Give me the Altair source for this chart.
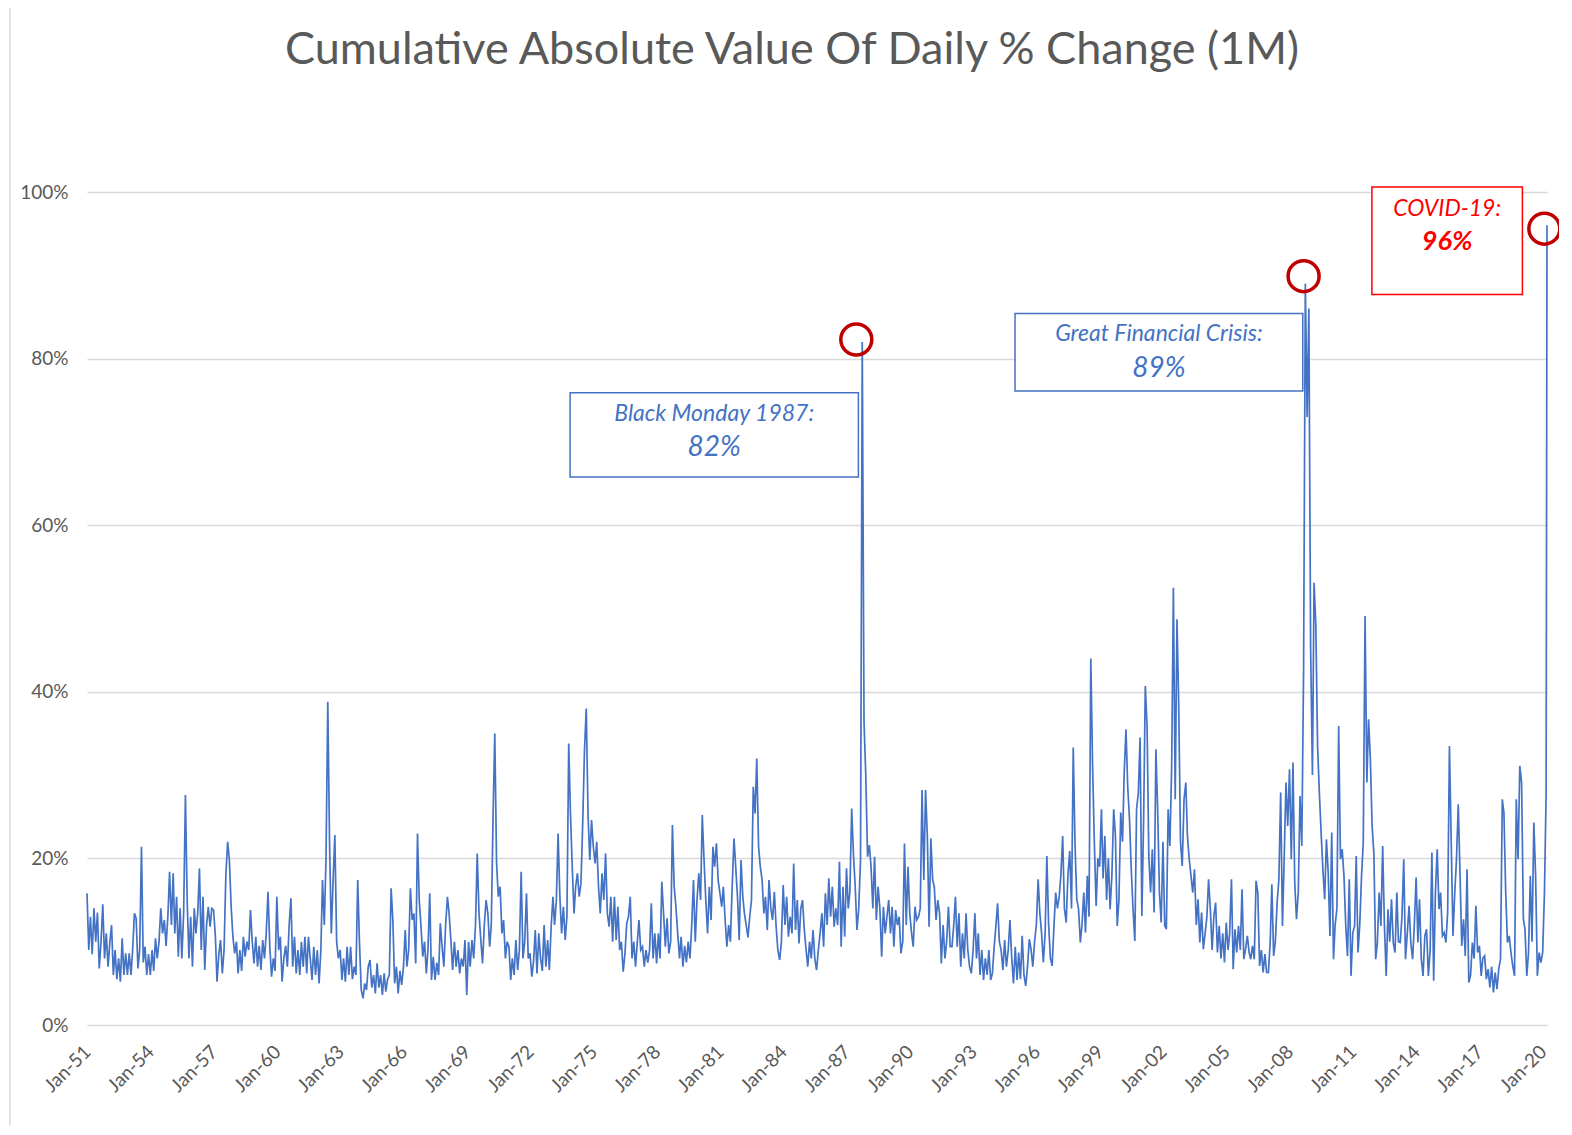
import altair as alt
import pandas as pd

# Monthly readings (in %), Jan..Dec of each year
v_1951_1960 = [
    15.8, 9, 13, 8.5, 14, 10, 13.5, 6.8, 10, 14.5, 8, 11,          # 1951
    7, 10, 12, 6, 9, 5.5, 8, 5.2, 10.4, 6, 8.6, 6,                 # 1952
    8.6, 6, 9, 13.4, 12.8, 6.8, 9, 21.4, 7.5, 9.4, 6, 8.5,         # 1953
    6, 9, 6.5, 10.4, 8, 10, 14, 11, 12.6, 9.5, 13, 18.4,           # 1954
    12, 18.2, 11, 15.4, 8.2, 14, 8, 13.4, 27.6, 15, 8, 13,         # 1955
    7, 14, 11, 13.5, 18.8, 9, 15.4, 6.6, 12, 14.2, 11.8, 14,       # 1956
    13.8, 10.6, 5.2, 8.5, 10.2, 6.2, 9, 18, 22, 19.8, 14.2, 10.6,  # 1957
    8.6, 10, 6.2, 9, 6.5, 10.6, 8.2, 10, 9, 13.8, 10, 7.4,         # 1958
    10.6, 7, 9.5, 6.6, 10.2, 8, 11, 16, 9.4, 5.8, 8, 6.5,          # 1959
    15.4, 9, 10.6, 5.2, 8, 9.5, 7, 12, 15.2, 7, 10.6, 6.2,         # 1960
]
v_1961_1970 = [
    9, 6, 10, 7, 10.6, 6.2, 10.6, 8, 5.4, 9.4, 6, 9,               # 1961
    5, 9, 17.4, 12, 20, 38.8, 22, 11, 17.4, 22.8, 10, 8,           # 1962
    9, 5.4, 8, 5.2, 9.4, 6, 9.4, 5.5, 7, 6, 17.4, 10,              # 1963
    4.2, 3.2, 5, 4.2, 7, 7.8, 4.5, 6, 3.8, 7.4, 4.5, 6,            # 1964
    3.6, 6.2, 4, 5.5, 6, 16.4, 12.6, 5, 7, 3.8, 6.5, 4.8,          # 1965
    7, 11.4, 7, 9, 16.4, 12.6, 13.4, 7.4, 23, 15, 11.8, 8.2,       # 1966
    10, 6.2, 9, 15.8, 5.4, 8.2, 5.4, 7.5, 6, 12.2, 9.4, 7,         # 1967
    12, 15.4, 13.4, 10.2, 6.6, 10, 7, 9, 6.2, 8, 7, 10.2,          # 1968
    3.6, 10, 7, 10.2, 8, 12, 20.6, 13.4, 10.2, 7.4, 12, 15,        # 1969
    13.4, 9.4, 12, 25, 35, 19.4, 15.4, 16.6, 11, 12.6, 8, 10,      # 1970
]
v_1971_1980 = [
    9.4, 5.4, 8, 6, 10.2, 6.6, 9, 18.4, 8, 10, 15.8, 8,            # 1971
    8.6, 5.8, 7.5, 11.4, 6.2, 11, 8, 6.5, 12, 7, 10.2, 6.6,        # 1972
    11.8, 15.4, 12, 15, 23, 15.4, 11, 14.2, 10.2, 13, 33.8, 25.4,  # 1973
    19, 13.4, 16.6, 18.2, 15.4, 17, 24.2, 33, 38, 25.4, 19.8, 24.6,  # 1974
    21.4, 19.4, 22, 16.6, 13.4, 18.2, 15, 20.6, 13.4, 11.8, 15.4, 10,  # 1975
    15.4, 10.2, 14.2, 9, 10, 6.4, 8.5, 12.2, 13, 15.4, 8, 10,      # 1976
    7, 10, 12.6, 9, 9.4, 7, 9, 7.5, 9, 14.6, 8, 11,                # 1977
    7.4, 11, 8, 17.2, 13.4, 9.4, 12.8, 8.6, 10, 24, 16.6, 14.2,    # 1978
    11, 8, 10.6, 7, 9.5, 7.5, 10, 8, 12, 17.4, 10, 15,             # 1979
    18.2, 15, 25.2, 19.8, 15, 11, 16.6, 12.6, 21.4, 19, 21.8, 17.4,  # 1980
]
v_1981_1990 = [
    15.8, 14.2, 16.6, 12.6, 9.4, 12, 10, 16.6, 22.4, 19, 15.4, 10.2,  # 1981
    19.8, 15.4, 13.4, 12, 10.5, 13, 15, 28.6, 25.4, 32, 21.4, 19,  # 1982
    17.4, 13.4, 15.4, 11.4, 17.4, 14, 12.6, 16, 11.8, 9, 7.8, 10,  # 1983
    16.8, 12, 15.4, 10.6, 13, 11, 19.4, 11.4, 15, 9.8, 14, 15,     # 1984
    11.4, 9, 7, 10, 8, 11.4, 8, 6.6, 9, 11, 13.4, 9.4,             # 1985
    15.8, 12, 17.6, 13, 16.6, 11.8, 14, 12, 19.6, 9.4, 16.6, 10.6,  # 1986
    18.8, 14, 16, 26, 20.6, 16.6, 11.4, 14, 19.8, 82, 36.2, 30,    # 1987
    20.2, 21.6, 19, 14, 20.2, 12.6, 16.6, 14, 8.2, 14.2, 11, 13,   # 1988
    15, 11, 14.2, 9.4, 13.8, 12, 13, 8.6, 10, 21.8, 12, 19,        # 1989
    13.4, 11, 9.4, 14.2, 12.6, 13, 14, 28.2, 17.4, 28.2, 22.6, 11.8,  # 1990
]
v_1991_2000 = [
    22.4, 17.4, 16.6, 12.6, 15, 13.4, 7.4, 12, 8, 10, 14.2, 9.4,   # 1991
    9.4, 12, 15.4, 9.4, 13.4, 7, 11, 8, 13.4, 9, 7, 6.2,           # 1992
    9, 13.4, 8, 11, 6, 9, 5.4, 8, 6, 9, 5.4, 6.2,                  # 1993
    9.4, 12, 14.6, 10, 9, 6.6, 10.2, 7, 9, 12.6, 8, 5,             # 1994
    9.4, 5.4, 8.7, 5.5, 10.7, 6, 4.7, 7, 10.3, 9.1, 7, 10,         # 1995
    12, 17.5, 13.5, 11, 7.5, 11, 20.3, 12, 8, 7.1, 11.9, 15.9,     # 1996
    14, 15.5, 18, 22.7, 14, 12.3, 18, 20.9, 14, 33.3, 21.5, 15.1,  # 1997
    13.9, 9.9, 12, 15.9, 11.1, 17.9, 13, 44, 31, 21.9, 14.3, 20,   # 1998
    19, 25.9, 17.6, 22.7, 15, 20, 13.9, 18, 25.9, 22.7, 11.9, 15,  # 1999
    25.5, 22, 30.3, 35.5, 28.6, 24.7, 18.7, 13.9, 10.1, 25.9, 27.9, 34.5,  # 2000
]
v_2001_2010 = [
    13.1, 25, 40.7, 35.9, 20.3, 15.9, 21.1, 13.5, 33.1, 25.9, 15.9, 12.3,  # 2001
    22, 11.9, 11.5, 25.9, 21.5, 31.1, 52.5, 27.1, 48.7, 38.3, 21.9, 19.1,  # 2002
    27.1, 29.1, 22.7, 19.9, 17.9, 15.9, 18.7, 12, 15.1, 9.9, 13.5, 9.1,    # 2003
    11, 13, 17.5, 13.9, 9, 13.1, 14.7, 8.7, 11.9, 8, 11, 7.5,              # 2004
    12.3, 9, 11, 17.5, 6.7, 11.5, 8.7, 11.9, 9, 16.3, 7.9, 9.1,            # 2005
    10.7, 8.7, 7.9, 9.5, 7.9, 17.3, 15.9, 7.1, 9, 6.3, 8.5, 6.3,           # 2006
    6.3, 10, 16.9, 8.3, 10, 14.7, 17.5, 27.9, 11.9, 20, 29.1, 23.9,        # 2007
    30.7, 19.9, 31.5, 17, 12.7, 15.9, 27.5, 21.5, 42.7, 89, 73, 86,        # 2008
    45, 30, 53.1, 48, 33.5, 27.9, 23.1, 18.7, 15.1, 22.3, 18.3, 10.7,      # 2009
    23.1, 7.9, 12, 14, 35.9, 19.9, 21.1, 17.9, 11.9, 8.3, 17.5, 5.9,       # 2010
]
v_2011_2020 = [
    11.1, 11.9, 20.3, 8.7, 12, 17.9, 21.9, 49.1, 29.1, 36.7, 31.9, 23.9,   # 2011
    20.5, 7.9, 9.9, 15.9, 11.9, 21.5, 12, 5.9, 13.9, 10, 15.1, 9.9,        # 2012
    8.7, 15.9, 10, 9.9, 13, 19.9, 7.9, 11, 14.3, 9.9, 7.9, 12,             # 2013
    17.7, 9.9, 15.1, 7.9, 5.9, 10.7, 11.5, 5.9, 9, 20.7, 5.3, 15.9,        # 2014
    21.1, 13.9, 15.9, 10.7, 11.1, 9.9, 13.5, 33.5, 21.9, 10.7, 15.9, 19.9,  # 2015
    26.5, 17.9, 9.5, 12.7, 8.3, 18.7, 5.1, 6, 9.9, 8, 14.3, 8.7,           # 2016
    9.5, 5.9, 8, 8.3, 5.5, 6.7, 4.5, 7, 3.9, 6.3, 4.3, 6.7,                # 2017
    7.9, 27.1, 25.5, 16, 9.9, 10.7, 8.7, 7.1, 5.9, 27.1, 19.9, 31.1,       # 2018
    29.1, 12.7, 11.5, 5.9, 8.7, 17.9, 10, 24.3, 17.9, 5.9, 8.7, 7.5,       # 2019
    8.7, 15.9, 27.9,                                                       # 2020 Jan-Mar
]
covid_peak_date = "2020-03-16"
covid_peak = 96

# x tick labels every 3 years
tick_years = list(range(1951, 2021, 3))

# annotations
circle_dates = ["1987-06-20", "2008-09-01", "2020-01-30"]
circle_values = [82.3, 89.9, 95.6]
box_start = ["1973-11-25", "1994-12-28", "2011-11-28"]
box_end = ["1987-07-26", "2008-08-18", "2019-01-15"]
box_top = [75.9, 85.4, 100.6]
box_bottom = [65.8, 76.1, 87.7]
label_line1 = ["Black Monday 1987:", "Great Financial Crisis:", "COVID-19:"]
label_line2 = ["82%", "89%", "96%"]
line1_y = [73.4, 82.9, 98.0]
line2_y = [69.3, 78.8, 94.0]
label_colors = ["#4472C4", "#4472C4", "#FF0000"]

TITLE = "Cumulative Absolute Value Of Daily % Change (1M)"
GREY = "#595959"
FONT = "Lato"

values = v_1951_1960 + v_1961_1970 + v_1971_1980 + v_1981_1990 + v_1991_2000 + v_2001_2010 + v_2011_2020
dates = pd.date_range("1951-01-01", periods=len(values), freq="MS").strftime("%Y-%m-%d").tolist()
dates = dates + [covid_peak_date]
values = values + [covid_peak]
df = pd.DataFrame({"date": dates, "v": [x / 100 for x in values]})

mid = [
    (pd.Timestamp(a) + (pd.Timestamp(b) - pd.Timestamp(a)) / 2).strftime("%Y-%m-%d")
    for a, b in zip(box_start, box_end)
]
ann = pd.DataFrame({
    "x1": box_start, "x2": box_end, "mid": mid,
    "top": [v / 100 for v in box_top], "bottom": [v / 100 for v in box_bottom],
    "l1": label_line1, "l2": label_line2,
    "y1": [v / 100 for v in line1_y], "y2": [v / 100 for v in line2_y],
    "col": label_colors,
})
circ = pd.DataFrame({"date": circle_dates, "v": [v / 100 for v in circle_values]})

x_scale = alt.Scale(
    type="utc",
    domain=[alt.DateTime(year=1951, month=1, date=1, utc=True),
            alt.DateTime(year=2020, month=3, date=16, utc=True)],
)
y_scale = alt.Scale(domain=[0, 1], nice=False, clamp=False)

x_axis = alt.Axis(
    values=[alt.DateTime(year=y, month=1, date=1, utc=True) for y in tick_years],
    labelExpr="utcFormat(datum.value, '%b-%y')", labelAngle=-45, labelFlush=False,
    labelOverlap=False, grid=False, domain=False, ticks=False,
    labelFontSize=19, labelColor=GREY, labelFont=FONT, labelPadding=17,
    labelOffset=-6, title=None,
)
y_axis = alt.Axis(
    values=[0, 0.2, 0.4, 0.6, 0.8, 1.0], format=".0%", grid=True,
    gridColor="#D9D9D9", gridWidth=1.3, domain=False, ticks=False,
    labelFontSize=19, labelColor=GREY, labelFont=FONT, labelPadding=19, title=None,
)

line = alt.Chart(df).mark_line(color="#4472C4", strokeWidth=1.7).encode(
    x=alt.X("date:T", scale=x_scale, axis=x_axis),
    y=alt.Y("v:Q", scale=y_scale, axis=y_axis),
)

boxes = alt.Chart(ann).mark_rect(fill="white", strokeWidth=1.5).encode(
    x=alt.X("x1:T", title=None), x2="x2:T",
    y=alt.Y("top:Q", title=None), y2="bottom:Q",
    stroke=alt.Stroke("col:N", scale=None),
)
text1 = alt.Chart(ann).mark_text(fontStyle="italic", fontSize=23, font=FONT, baseline="middle").encode(
    x=alt.X("mid:T", title=None), y=alt.Y("y1:Q", title=None), text="l1:N",
    color=alt.Color("col:N", scale=None),
)
text2_blue = alt.Chart(ann.iloc[:2]).mark_text(fontStyle="italic", fontSize=28, font=FONT, baseline="middle").encode(
    x=alt.X("mid:T", title=None), y=alt.Y("y2:Q", title=None), text="l2:N",
    color=alt.Color("col:N", scale=None),
)
text2_red = alt.Chart(ann.iloc[2:]).mark_text(fontStyle="italic", fontWeight="bold", fontSize=27, font=FONT, baseline="middle").encode(
    x=alt.X("mid:T", title=None), y=alt.Y("y2:Q", title=None), text="l2:N",
    color=alt.Color("col:N", scale=None),
)
circles = alt.Chart(circ).mark_point(shape="circle", filled=False, size=961, strokeWidth=3.5, color="#C00000", opacity=1).encode(
    x=alt.X("date:T", title=None), y=alt.Y("v:Q", title=None),
)

dummy = alt.Data(values=[{"a": 1}])
title = alt.Chart(dummy).mark_text(text=TITLE, fontSize=45, font=FONT, color=GREY, baseline="middle", align="center").encode(
    x=alt.value(705), y=alt.value(-142),
)
border = alt.Chart(dummy).mark_rule(color="#D9D9D9", strokeWidth=1.5).encode(
    x=alt.value(-77), y=alt.value(-200), y2=alt.value(950),
)

chart = alt.layer(border, line, boxes, circles, text1, text2_blue, text2_red, title).properties(
    width=1460, height=833,
    padding={"left": 79, "top": 184, "right": 12, "bottom": 100},
    autosize=alt.AutoSizeParams(type="none"),
    background="white",
).configure_view(stroke=None)

chart.save("out.html", embed_options={"renderer": "svg", "actions": False})
